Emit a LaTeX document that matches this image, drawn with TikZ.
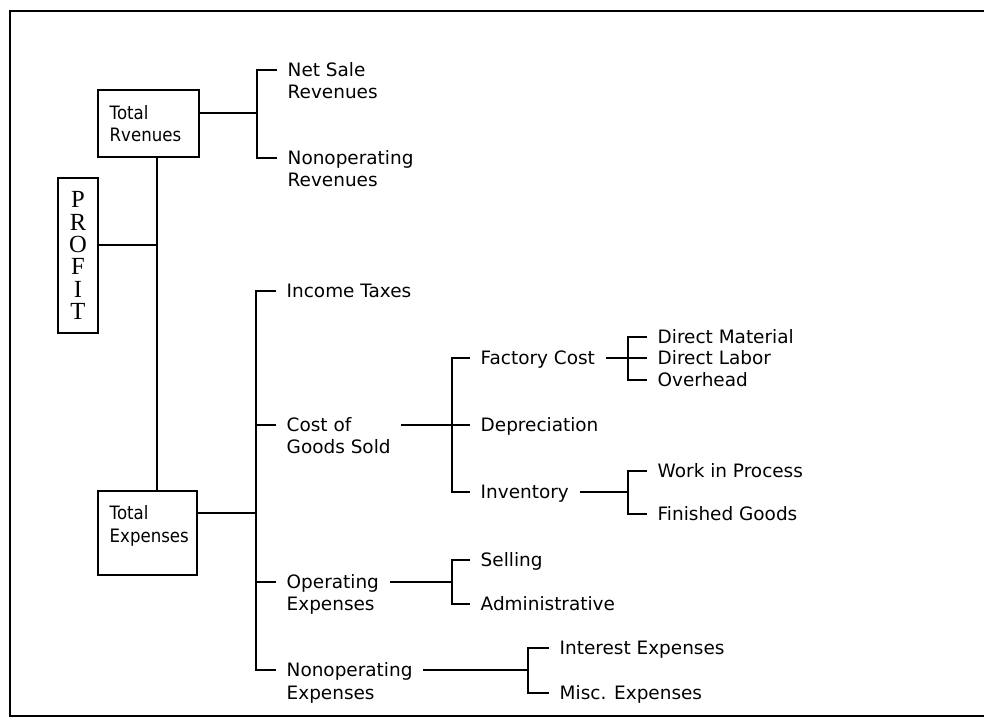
\documentclass[tikz,border=0pt]{standalone}
\usepackage{fontspec}
\setmainfont{DejaVu Sans}
\newfontfamily\boxfont[FakeStretch=0.9]{DejaVu Sans}
\newfontfamily\profitfont{Liberation Serif}
\usetikzlibrary{calc, fit}

\begin{document}
\begin{tikzpicture}[x=0.02cm, y=-0.02cm, line width=0.8pt,
    lbl/.style={anchor=west, inner xsep=0.2cm, inner ysep=0pt, text height=7.7pt, text depth=0pt, font=\fontsize{10.5}{12}\selectfont},
    boxlbl/.style={lbl, font=\boxfont\fontsize{10.5}{12}\selectfont},
    box/.style={draw, inner sep=0pt}]
        \useasboundingbox (0,0) rectangle (984,723);
        %cornice
        \draw[line width=1.2pt] (984,11) -- (10,11) -- (10,716) -- (984,716);
        %profit
        \node[box, minimum width=0.8cm, minimum height=3.1cm, align=center, font=\profitfont\fontsize{14}{12.7}\selectfont] (pf) at (78,255.5) {P\\R\\O\\F\\I\\T};
        \coordinate (pj) at (157,245);
        %total revenues
        \node[box, fit={(98,90) (199,157)}] (tr) {};
        \node[boxlbl] (tr1) at (99,113) {Total};
        \node[boxlbl] (tr2) at (99,135) {Rvenues};
        %total expenses
        \node[box, fit={(98,491) (197,575)}] (te) {};
        \node[boxlbl] (te1) at (99,513) {Total};
        \node[boxlbl] (te2) at (99,536) {Expenses};
        \draw (pj |- tr.south) -- (pj |- te.north);
        \draw (pj -| pf.east) -- (pj);
        %revenues
        \coordinate (brR) at (257,113);
        \node[lbl] (ns) at (277,70) {Net Sale};
        \node[lbl] (ns2) at (277,92) {Revenues};
        \node[lbl] (nr) at (277,158) {Nonoperating};
        \node[lbl] (nr2) at (277,180) {Revenues};
        \draw (tr.east |- tr1) -- (brR);
        \draw (ns.west) -| (brR) |- (nr.west);
        %expenses
        \coordinate (brE) at (256,513);
        \node[lbl] (it) at (276,291) {Income Taxes};
        \node[lbl] (cg) at (276,425) {Cost of};
        \node[lbl] (cg2) at (276,447) {Goods Sold};
        \node[lbl] (oe) at (276,582) {Operating};
        \node[lbl] (oe2) at (276,604) {Expenses};
        \node[lbl] (ne) at (276,670) {Nonoperating};
        \node[lbl] (ne2) at (276,693) {Expenses};
        \draw (te.east |- te1) -- (brE);
        \draw (it.west) -| (brE) |- (ne.west);
        \draw (cg.west) -- (cg.west -| brE);
        \draw (oe.west) -- (oe.west -| brE);
        %cost of goods sold
        \coordinate (brC) at (452,425);
        \node[lbl] (fc) at (470,358) {Factory Cost};
        \node[lbl] (dp) at (470,425) {Depreciation};
        \node[lbl] (iv) at (470,492) {Inventory};
        \draw (cg2.east |- cg) -- (dp.west);
        \draw (fc.west) -| (brC) |- (iv.west);
        %factory cost
        \coordinate (brF) at (628,358);
        \node[lbl] (dm) at (647,337) {Direct Material};
        \node[lbl] (dl) at (647,358) {Direct Labor};
        \node[lbl] (oh) at (647,380) {Overhead};
        \draw (fc.east) -- (dl.west);
        \draw (dm.west) -| (brF) |- (oh.west);
        %inventory
        \coordinate (brI) at (628,492);
        \node[lbl] (wp) at (647,471) {Work in Process};
        \node[lbl] (fg) at (647,514) {Finished Goods};
        \draw (iv.east) -- (brI);
        \draw (wp.west) -| (brI) |- (fg.west);
        %operating expenses
        \coordinate (brO) at (452,582);
        \node[lbl] (se) at (470,560) {Selling};
        \node[lbl] (ad) at (470,604) {Administrative};
        \draw (oe.east) -- (brO);
        \draw (se.west) -| (brO) |- (ad.west);
        %nonoperating expenses
        \coordinate (brN) at (528,670);
        \node[lbl] (ie) at (549,648) {Interest Expenses};
        \node[lbl] (me) at (549,693) {Misc. Expenses};
        \draw (ne.east) -- (brN);
        \draw (ie.west) -| (brN) |- (me.west);
    \end{tikzpicture}
\end{document}
